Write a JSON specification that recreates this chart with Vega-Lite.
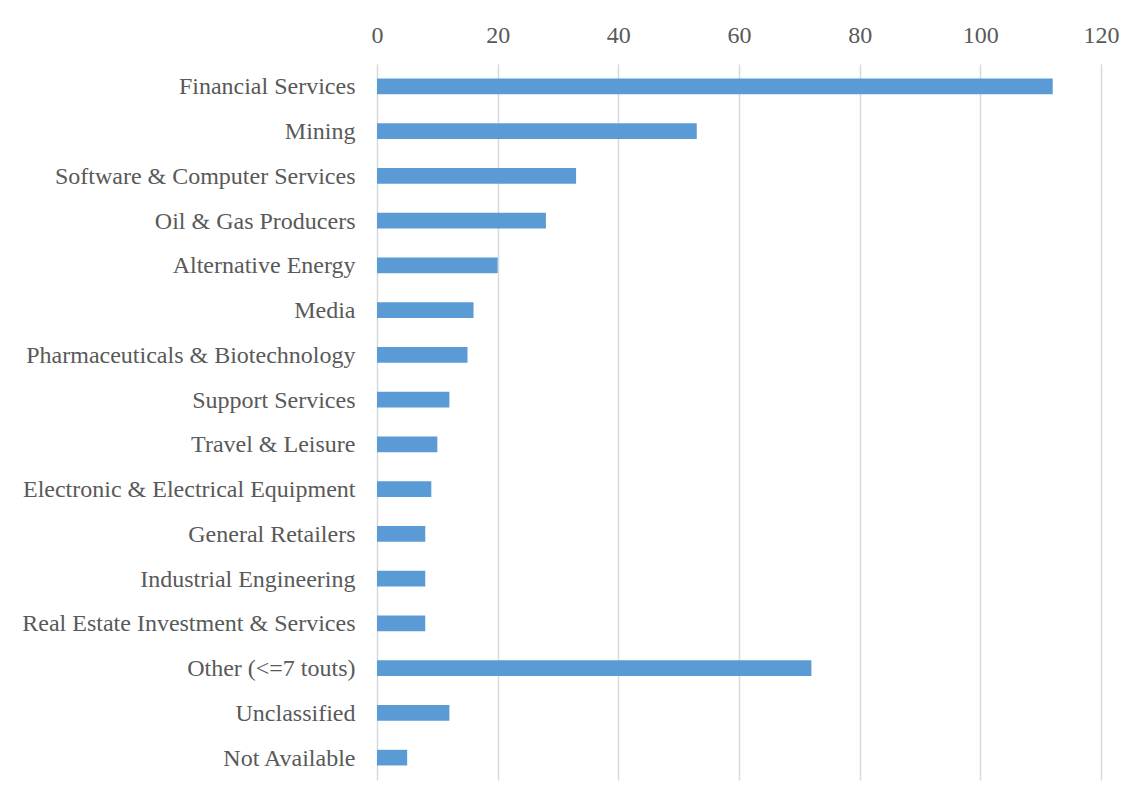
{
  "$schema": "https://vega.github.io/schema/vega-lite/v6.json",
  "autosize": {"type": "none"},
  "width": 724,
  "height": 716,
  "padding": {"left": 377, "top": 64, "right": 40, "bottom": 27},
  "background": "white",
  "config": {"view": {"stroke": null}},
  "data": {"values": [
    {"sector": "Financial Services", "touts": 112},
    {"sector": "Mining", "touts": 53},
    {"sector": "Software & Computer Services", "touts": 33},
    {"sector": "Oil & Gas Producers", "touts": 28},
    {"sector": "Alternative Energy", "touts": 20},
    {"sector": "Media", "touts": 16},
    {"sector": "Pharmaceuticals & Biotechnology", "touts": 15},
    {"sector": "Support Services", "touts": 12},
    {"sector": "Travel & Leisure", "touts": 10},
    {"sector": "Electronic & Electrical Equipment", "touts": 9},
    {"sector": "General Retailers", "touts": 8},
    {"sector": "Industrial Engineering", "touts": 8},
    {"sector": "Real Estate Investment & Services", "touts": 8},
    {"sector": "Other (<=7 touts)", "touts": 72},
    {"sector": "Unclassified", "touts": 12},
    {"sector": "Not Available", "touts": 5}
  ]},
  "mark": {"type": "bar", "color": "#5b9bd5"},
  "encoding": {
    "y": {
      "field": "sector", "type": "nominal", "sort": null,
      "scale": {"paddingInner": 0.65, "paddingOuter": 0.325},
      "axis": {"title": null, "domain": false, "ticks": false, "labelFont": "Liberation Serif", "labelFontSize": 24, "labelColor": "#595959", "labelPadding": 22, "labelLimit": 400, "labelOffset": 1}
    },
    "x": {
      "field": "touts", "type": "quantitative",
      "scale": {"domain": [0, 120], "nice": false},
      "axis": {"orient": "top", "title": null, "values": [0, 20, 40, 60, 80, 100, 120], "domain": false, "ticks": false, "grid": true, "gridColor": "#d9d9d9", "gridWidth": 1.5, "labelFlush": false, "labelFont": "Liberation Serif", "labelFontSize": 24, "labelColor": "#595959", "labelPadding": 17}
    }
  }
}
